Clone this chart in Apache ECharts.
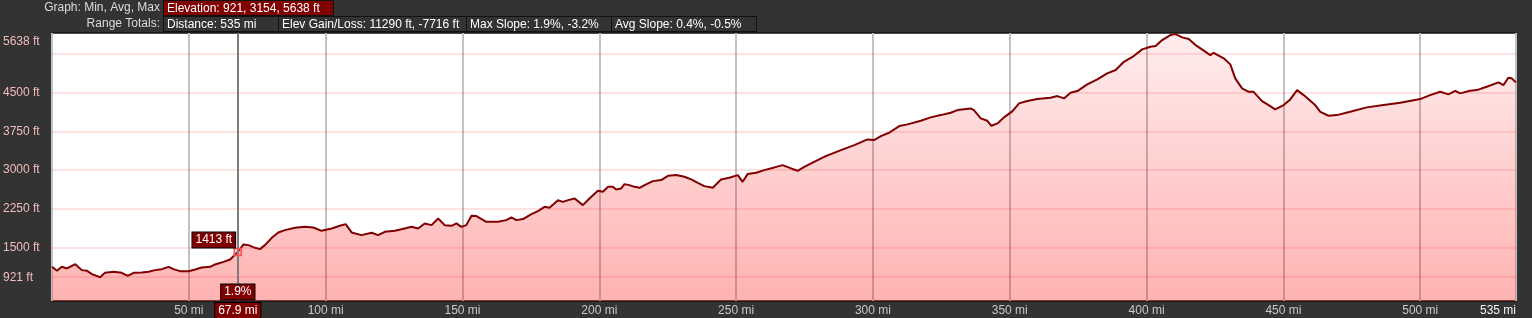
<!DOCTYPE html>
<html>
<head>
<meta charset="utf-8">
<script src="https://cdn.jsdelivr.net/npm/echarts@6/dist/echarts.min.js"></script>
<style>
html,body{margin:0;padding:0;background:#333333;}
#chart{width:1532px;height:318px;}
</style>
</head>
<body>
<div id="chart"></div>
<script>
// ---- data ----
const miles = [0,1.8,3.6,5.5,8.5,10.9,12.8,14.6,17.6,19.3,22.5,25.5,27.7,29.8,32.8,35.3,37.7,40.1,42.6,44.4,46.8,49.9,52.3,54.7,57.8,59.6,62.7,65.1,67.9,70.0,71.8,74.2,76.0,77.8,80.3,82.7,85.1,88.8,92.4,95.5,98.5,102.2,105.2,107.3,109.5,113.1,116.8,119.2,121.6,125.3,128.9,131.4,133.8,136.2,138.7,141.1,143.5,146.0,147.8,149.6,151.4,153.3,155.1,158.7,163.0,166.0,167.9,169.7,172.1,175.2,177.6,180.0,181.8,184.9,186.7,188.6,191.0,194.0,196.4,199.5,201.3,203.2,205.0,206.2,208.0,209.2,211.0,212.9,214.7,217.1,219.6,222.6,225.1,228.1,231.1,233.6,236.0,238.4,241.5,244.5,247.5,250.6,252.4,254.2,257.3,260.3,264.0,267.0,270.1,272.5,274.9,277.4,279.8,282.2,284.6,288.3,293.2,298.0,300.4,302.9,305.9,309.6,312.6,317.5,321.1,324.8,328.4,330.9,335.7,336.9,339.4,341.8,343.3,345.5,347.9,351.0,353.4,356.4,360.1,364.9,367.4,369.8,372.2,374.7,378.3,382.0,385.6,388.7,391.7,395.3,398.4,401.4,403.3,405.7,408.7,410.6,413.0,415.4,417.9,419.7,423.3,424.5,428.2,430.6,432.4,434.9,437.3,439.1,442.2,444.6,447.0,450.1,452.5,455.0,457.4,461.6,463.5,466.5,469.6,474.4,480.5,486.6,492.7,500.0,503.6,507.3,510.3,512.8,514.6,518.2,520.7,524.3,528.6,530.4,532.2,533.4,535];
const elevationFt = [1123,1045,1123,1092,1175,1059,1045,981,921,1006,1026,1006,948,1006,1014,1026,1059,1078,1123,1078,1039,1039,1072,1111,1123,1169,1220,1266,1413,1557,1544,1492,1467,1544,1686,1790,1835,1880,1899,1887,1822,1868,1919,1952,1790,1738,1783,1738,1802,1822,1868,1899,1868,1965,1932,2062,1932,1919,1965,1899,1932,2113,2107,1996,1996,2029,2081,2029,2049,2146,2204,2287,2268,2417,2384,2417,2450,2320,2450,2598,2578,2675,2675,2625,2644,2728,2708,2675,2656,2722,2786,2806,2889,2903,2870,2819,2753,2689,2656,2819,2850,2903,2773,2922,2947,2999,3052,3097,3032,2986,3064,3130,3194,3258,3310,3388,3485,3595,3582,3660,3724,3854,3887,3957,4023,4067,4112,4164,4197,4164,4003,3957,3860,3906,4023,4145,4294,4339,4378,4403,4436,4391,4500,4533,4663,4760,4877,4941,5102,5212,5342,5393,5406,5523,5620,5638,5575,5542,5426,5362,5232,5276,5168,5051,4780,4585,4519,4519,4339,4261,4178,4261,4372,4552,4455,4261,4131,4054,4067,4131,4217,4261,4306,4378,4455,4519,4469,4539,4488,4539,4552,4616,4702,4649,4791,4780,4702];

const yLabelValues = [921, 1500, 2250, 3000, 3750, 4500, 5638];
const yGridValues = [921, 1500, 2250, 3000, 3750, 4500, 5250];
const yMin = 460, yMax = 5660;
const xMax = 535, xInterval = 50;

const cursorMi = 67.9, cursorFt = 1413, cursorSlope = '1.9%';

const headerRow1Label = 'Graph: Min, Avg, Max';
const headerRow1Boxes = ['Elevation: 921, 3154, 5638 ft'];
const headerRow2Label = 'Range Totals:';
const headerRow2Boxes = ['Distance: 535 mi', 'Elev Gain/Loss: 11290 ft, -7716 ft', 'Max Slope: 1.9%, -3.2%', 'Avg Slope: 0.4%, -0.5%'];

// ---- build ----
const FONT = '"Liberation Sans", Arial, sans-serif';
const seriesData = miles.map((m, i) => [m, elevationFt[i]]);

const graphic = [];
function headerRow(label, boxes, widths, y, fill) {
  graphic.push({type:'text', left: null, x:160, y:y+8, style:{text:label, fill:'#dcdcdc', font:'12px '+FONT, align:'right', verticalAlign:'middle'}});
  let x = 163;
  boxes.forEach((t, i) => {
    graphic.push({type:'rect', shape:{x:x+0.5, y:y+0.5, width:widths[i], height:15}, style:{fill:fill, stroke:'#111', lineWidth:1}});
    graphic.push({type:'text', x:x+4, y:y+8.5, style:{text:t, fill:'#ffffff', font:'12px '+FONT, verticalAlign:'middle'}});
    x += widths[i];
  });
}
headerRow(headerRow1Label, headerRow1Boxes, [170], 0, '#800000');
headerRow(headerRow2Label, headerRow2Boxes, [115,188,145,145], 16, '#333333');

const boxLabel = {
  show: true, color:'#fff', fontSize:12, fontFamily: FONT,
  backgroundColor:'#800000', borderColor:'#000', borderWidth:1, padding:[2,3,1,3]
};

const option = {
  backgroundColor:'#333333',
  animation:false,
  textStyle:{fontFamily: FONT},
  graphic: graphic,
  grid:{left:50, right:16, top:33, bottom:17, show:true, backgroundColor:'#ffffff', borderColor:'#151515', borderWidth:1.5, containLabel:false},
  xAxis:{
    type:'value', min:0, max:xMax, interval:xInterval,
    axisLine:{show:false}, axisTick:{show:false},
    splitLine:{show:true, lineStyle:{color:'#c2c2c2', width:2}},
    axisLabel:{
      color:'#c8c8c8', fontSize:12, margin:4, showMaxLabel:true, alignMaxLabel:'right',
      formatter: v => v === 0 ? '' : (v === xMax ? '{w|' + v + ' mi}' : v + ' mi'),
      rich:{w:{color:'#f4f4f4', fontSize:12}}
    }
  },
  yAxis:{
    type:'value', min:yMin, max:yMax,
    axisLine:{show:false}, axisTick:{show:false}, splitLine:{show:false},
    axisLabel:{
      customValues: yLabelValues,
      align:'left', margin:49, color:'#f2bcbc', fontSize:12,
      formatter: v => v === yLabelValues[yLabelValues.length-1] ? '{t|' + v + ' ft}' : v + ' ft',
      rich:{t:{color:'#f2bcbc', fontSize:12, padding:[15,0,0,0]}}
    }
  },
  series:[
    {
      type:'line', data:seriesData, silent:true, z:1,
      showSymbol:false, lineStyle:{opacity:0}, itemStyle:{opacity:0},
      markLine:{
        silent:true, symbol:'none', animation:false,
        lineStyle:{color:'rgba(255,0,0,0.11)', width:2, type:'solid'},
        label:{show:false},
        data: yGridValues.map(v => ({yAxis:v}))
      }
    },
    {
      type:'line', data:seriesData, z:2, showSymbol:false, silent:true,
      lineStyle:{color:'#800000', width:2},
      areaStyle:{
        color:{type:'linear', x:0, y:0, x2:0, y2:1, colorStops:[
          {offset:0, color:'rgba(255,0,0,0.07)'},
          {offset:1, color:'rgba(255,0,0,0.30)'}
        ]},
        opacity:1
      },
      markLine:{
        silent:true, symbol:'none', animation:false,
        lineStyle:{color:'#7c7c7c', width:2, type:'solid'},
        data:[{xAxis:cursorMi, label:Object.assign({}, boxLabel, {position:'start', distance:2, formatter: cursorMi + ' mi'})}]
      },
      markPoint:{
        silent:true, animation:false,
        data:[
          {coord:[cursorMi, cursorFt], symbol:'rect', symbolSize:7,
           itemStyle:{color:'rgba(255,120,120,0.25)', borderColor:'#ff4d4d', borderWidth:1.5},
           label:{show:false}},
          {coord:[cursorMi, cursorFt], symbol:'circle', symbolSize:0,
           label:Object.assign({}, boxLabel, {position:'inside', offset:[-24,-12], formatter: cursorFt + ' ft'})},
          {coord:[cursorMi, yMin], symbol:'circle', symbolSize:0,
           label:Object.assign({}, boxLabel, {position:'inside', offset:[0,-9], formatter: cursorSlope})}
        ]
      }
    }
  ]
};

const chart = echarts.init(document.getElementById('chart'), null, {renderer:'canvas'});
chart.setOption(option);
</script>
</body>
</html>
